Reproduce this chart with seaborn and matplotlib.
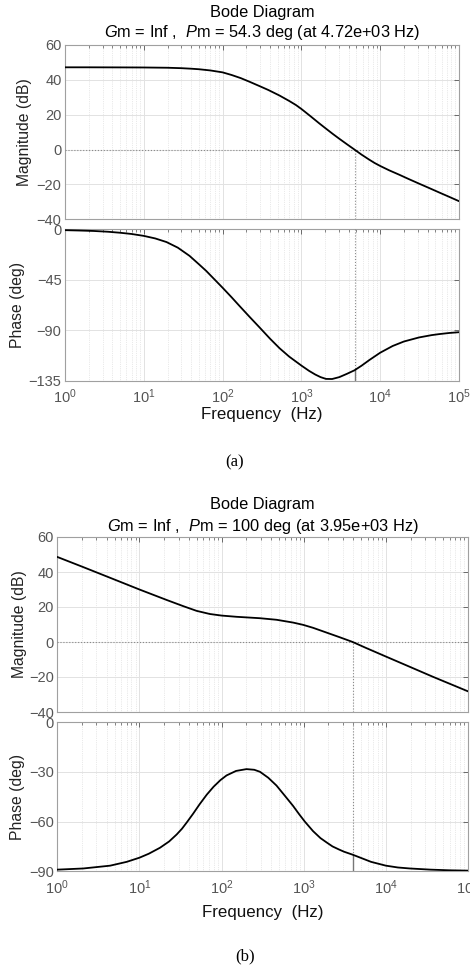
import numpy as np
import pandas as pd
import matplotlib
matplotlib.use("Agg")
import matplotlib.pyplot as plt
import seaborn as sns
from matplotlib.ticker import LogLocator, NullFormatter, FixedLocator

# ---------------- data ----------------
# (a)
freq_mag_a = [1, 2, 5, 10, 20, 30, 40, 50, 70, 100, 130, 170, 220, 295, 380, 528,
              700, 850, 1000, 1300, 1690, 2000, 2500, 3030, 3800, 4720, 5800, 7270,
              8500, 10000, 13000, 17400, 23000, 31000, 42000, 56000, 75000, 100000]
mag_a = [47.2, 47.2, 47.15, 47.1, 46.95, 46.7, 46.4, 46.1, 45.4, 44.3, 42.8, 41.0,
         38.9, 36.4, 34.2, 31.0, 27.9, 25.6, 23.3, 19.2, 15.0, 12.4, 9.0, 6.2, 3.0,
         0.0, -2.9, -5.8, -7.7, -9.4, -11.9, -14.4, -16.9, -19.5, -22.1, -24.6,
         -27.1, -29.6]
freq_ph_a = [1, 1.5, 2.3, 3.5, 5, 7, 10, 14, 19.4, 27, 38, 50, 62, 80, 100, 130,
             165, 220, 295, 400, 528, 700, 1000, 1250, 1500, 1750, 2050, 2450, 3030,
             3800, 4720, 5800, 7300, 10000, 14400, 20000, 31000, 45000, 56000,
             75000, 100000]
phase_a = [-0.6, -0.9, -1.3, -2.0, -2.9, -4.0, -5.7, -8.0, -11.2, -16.2, -23.5,
           -31.0, -37.0, -45.0, -52.0, -60.5, -68.5, -78.0, -87.5, -97.5, -106.0,
           -113.5, -121.5, -126.2, -129.5, -131.8, -133.4, -133.5, -131.8, -128.8,
           -125.7, -121.6, -116.5, -110.0, -104.0, -100.0, -96.4, -94.3, -93.4,
           -92.4, -91.7]
wc_a, pm_a = 4720, 54.3
title_a = r"$\mathit{G}$m = Inf ,  $\mathit{P}$m = 54.3 deg (at 4.72e+03 Hz)"

# (b)
freq_mag_b = [1, 2.07, 5.28, 10, 21.5, 34.1, 49.6, 72, 100, 152, 292, 467, 743, 984,
              1301, 1892, 2750, 3950, 5800, 10000, 19600, 37500, 100000]
mag_b = [48.6, 42.8, 35.2, 30.0, 24.0, 20.5, 17.8, 16.0, 15.1, 14.4, 13.6, 12.7,
         11.1, 9.8, 8.1, 5.4, 2.7, 0.0, -3.5, -8.3, -14.2, -19.9, -28.2]
freq_ph_b = [1, 2.07, 4.4, 7, 10, 13, 17.8, 23, 28.4, 33, 38, 45, 54, 66, 80, 97,
             115, 150, 201, 250, 293, 370, 466, 590, 740, 880, 1030, 1300, 1600,
             1900, 2240, 2700, 3100, 3950, 5200, 6600, 10000, 14000, 19600, 35000,
             60000, 100000]
phase_b = [-89.0, -88.3, -86.6, -84.3, -81.8, -79.4, -75.8, -72.0, -67.8, -64.3,
           -60.3, -55.3, -49.6, -43.8, -39.0, -35.0, -32.2, -29.5, -28.4, -28.8,
           -30.0, -33.6, -38.3, -44.5, -50.5, -55.6, -60.0, -65.8, -70.0, -72.6,
           -75.0, -76.9, -78.2, -80.0, -82.3, -84.3, -86.6, -87.7, -88.3, -89.0,
           -89.4, -89.6]
wc_b, pm_b = 3950, 100
title_b = r"$\mathit{G}$m = Inf ,  $\mathit{P}$m = 100 deg (at 3.95e+03 Hz)"

mag_ticks = [-40, -20, 0, 20, 40, 60]
ph_ticks_a = [-135, -90, -45, 0]
ph_ticks_b = [-90, -60, -30, 0]
x_ticks = [1, 10, 100, 1000, 10000, 100000]
x_ticklabels = [r"$10^{0}$", r"$10^{1}$", r"$10^{2}$", r"$10^{3}$", r"$10^{4}$", r"$10^{5}$"]

# ---------------- style ----------------
sns.set_style("white")
plt.rcParams['font.family'] = ['Liberation Sans', 'DejaVu Sans']
plt.rcParams['mathtext.fontset'] = 'custom'
plt.rcParams['mathtext.rm'] = 'Liberation Sans'
plt.rcParams['mathtext.it'] = 'Liberation Sans:italic'
plt.rcParams['axes.unicode_minus'] = True

W, H = 470, 972
fig = plt.figure(figsize=(W / 100, H / 100), dpi=100)
fig.patch.set_facecolor("white")


def add_ax(left, right, top, bottom):
    return fig.add_axes([left / W, 1 - bottom / H, (right - left) / W, (bottom - top) / H])


def style(ax, yticks, ylim, show_x):
    ax.set_xscale('log')
    ax.set_xlim(1, 1e5)
    ax.set_ylim(*ylim)
    ax.yaxis.set_major_locator(FixedLocator(yticks))
    ax.set_xticks(x_ticks)
    ax.xaxis.set_minor_locator(LogLocator(base=10, subs=np.arange(2, 10), numticks=100))
    ax.xaxis.set_minor_formatter(NullFormatter())
    if show_x:
        ax.set_xticklabels(x_ticklabels)
    else:
        ax.set_xticklabels([])
    ax.grid(which='major', color='#e2e2e2', lw=0.7, ls='-')
    ax.grid(which='minor', axis='x', color='#d5d5d5', lw=0.5, ls=':')
    ax.set_axisbelow(True)
    ax.tick_params(which='both', direction='in', top=True, right=True,
                   colors='#555555', labelsize=10.5)
    ax.tick_params(axis='y', pad=2.5)
    ax.tick_params(axis='x', pad=5.0)
    ax.tick_params(which='major', length=3.5, width=0.6)
    ax.tick_params(which='minor', length=2, width=0.5)
    for sp in ax.spines.values():
        sp.set_color('#a0a0a0')
        sp.set_linewidth(0.8)
    ax.set_xlabel("")


def draw(geom, fm, mg, fp, ph, wc, pm, title, yt_ph, ylim_ph, ylab_mag_x, ylab_ph_x,
         title_y1, title_y2, xlabel_y, cap, cap_x, cap_y):
    left, right, mtop, mbot, ptop, pbot = geom
    axm = add_ax(left, right, mtop, mbot)
    axp = add_ax(left, right, ptop, pbot)

    dm = pd.DataFrame({"Frequency": fm, "Magnitude": mg})
    dp = pd.DataFrame({"Frequency": fp, "Phase": ph})
    sns.lineplot(data=dm, x="Frequency", y="Magnitude", ax=axm, color="black", lw=1.3,
                 zorder=5, sort=True)
    sns.lineplot(data=dp, x="Frequency", y="Phase", ax=axp, color="black", lw=1.3,
                 zorder=5, sort=True)

    style(axm, mag_ticks, (-40, 60), False)
    style(axp, yt_ph, ylim_ph, True)

    # margin markers
    axm.axhline(0, color='#8a8a8a', lw=0.8, ls=':', zorder=3)
    axm.plot([wc, wc], [-40, 0], color='#8a8a8a', lw=0.8, ls=':', zorder=3)
    ph_wc = pm - 180
    axp.plot([wc, wc], [ylim_ph[1], ph_wc], color='#8a8a8a', lw=0.8, ls=':', zorder=3)
    axp.plot([wc, wc], [-180, ph_wc], color='#777777', lw=1.0, ls='-', zorder=3)

    axm.set_ylabel("Magnitude (dB)", fontsize=11.3, color='#222222')
    axp.set_ylabel("Phase (deg)", fontsize=11.3, color='#222222')
    axm.yaxis.set_label_coords(ylab_mag_x, 0.5)
    axp.yaxis.set_label_coords(ylab_ph_x, 0.5)

    cx = (left + right) / 2 / W
    fig.text(cx, 1 - title_y1 / H, "Bode Diagram", ha='center', va='baseline',
             fontsize=11.8, color='black')
    fig.text(cx, 1 - title_y2 / H, title, ha='center', va='baseline',
             fontsize=11.8, color='black')
    fig.text(cx, 1 - xlabel_y / H, "Frequency  (Hz)", ha='center', va='center',
             fontsize=12.2, color='#111111')
    fig.text(cap_x / W, 1 - cap_y / H, cap, ha='center', va='center', fontsize=12,
             family=['Liberation Serif', 'DejaVu Serif'], color='black')


draw((65, 459, 45, 219.3, 229.5, 380.7), freq_mag_a, mag_a, freq_ph_a, phase_a,
     wc_a, pm_a, title_a, ph_ticks_a, (-135, 0), -0.085, -0.101,
     16.7, 36.7, 415, "(a)", 235, 462)
draw((57.3, 468, 537, 712, 722, 871.3), freq_mag_b, mag_b, freq_ph_b, phase_b,
     wc_b, pm_b, title_b, ph_ticks_b, (-90, 0), -0.074, -0.079,
     509.3, 530.7, 912, "(b)", 245, 956)

fig.savefig("out.png", dpi=100, facecolor="white")
